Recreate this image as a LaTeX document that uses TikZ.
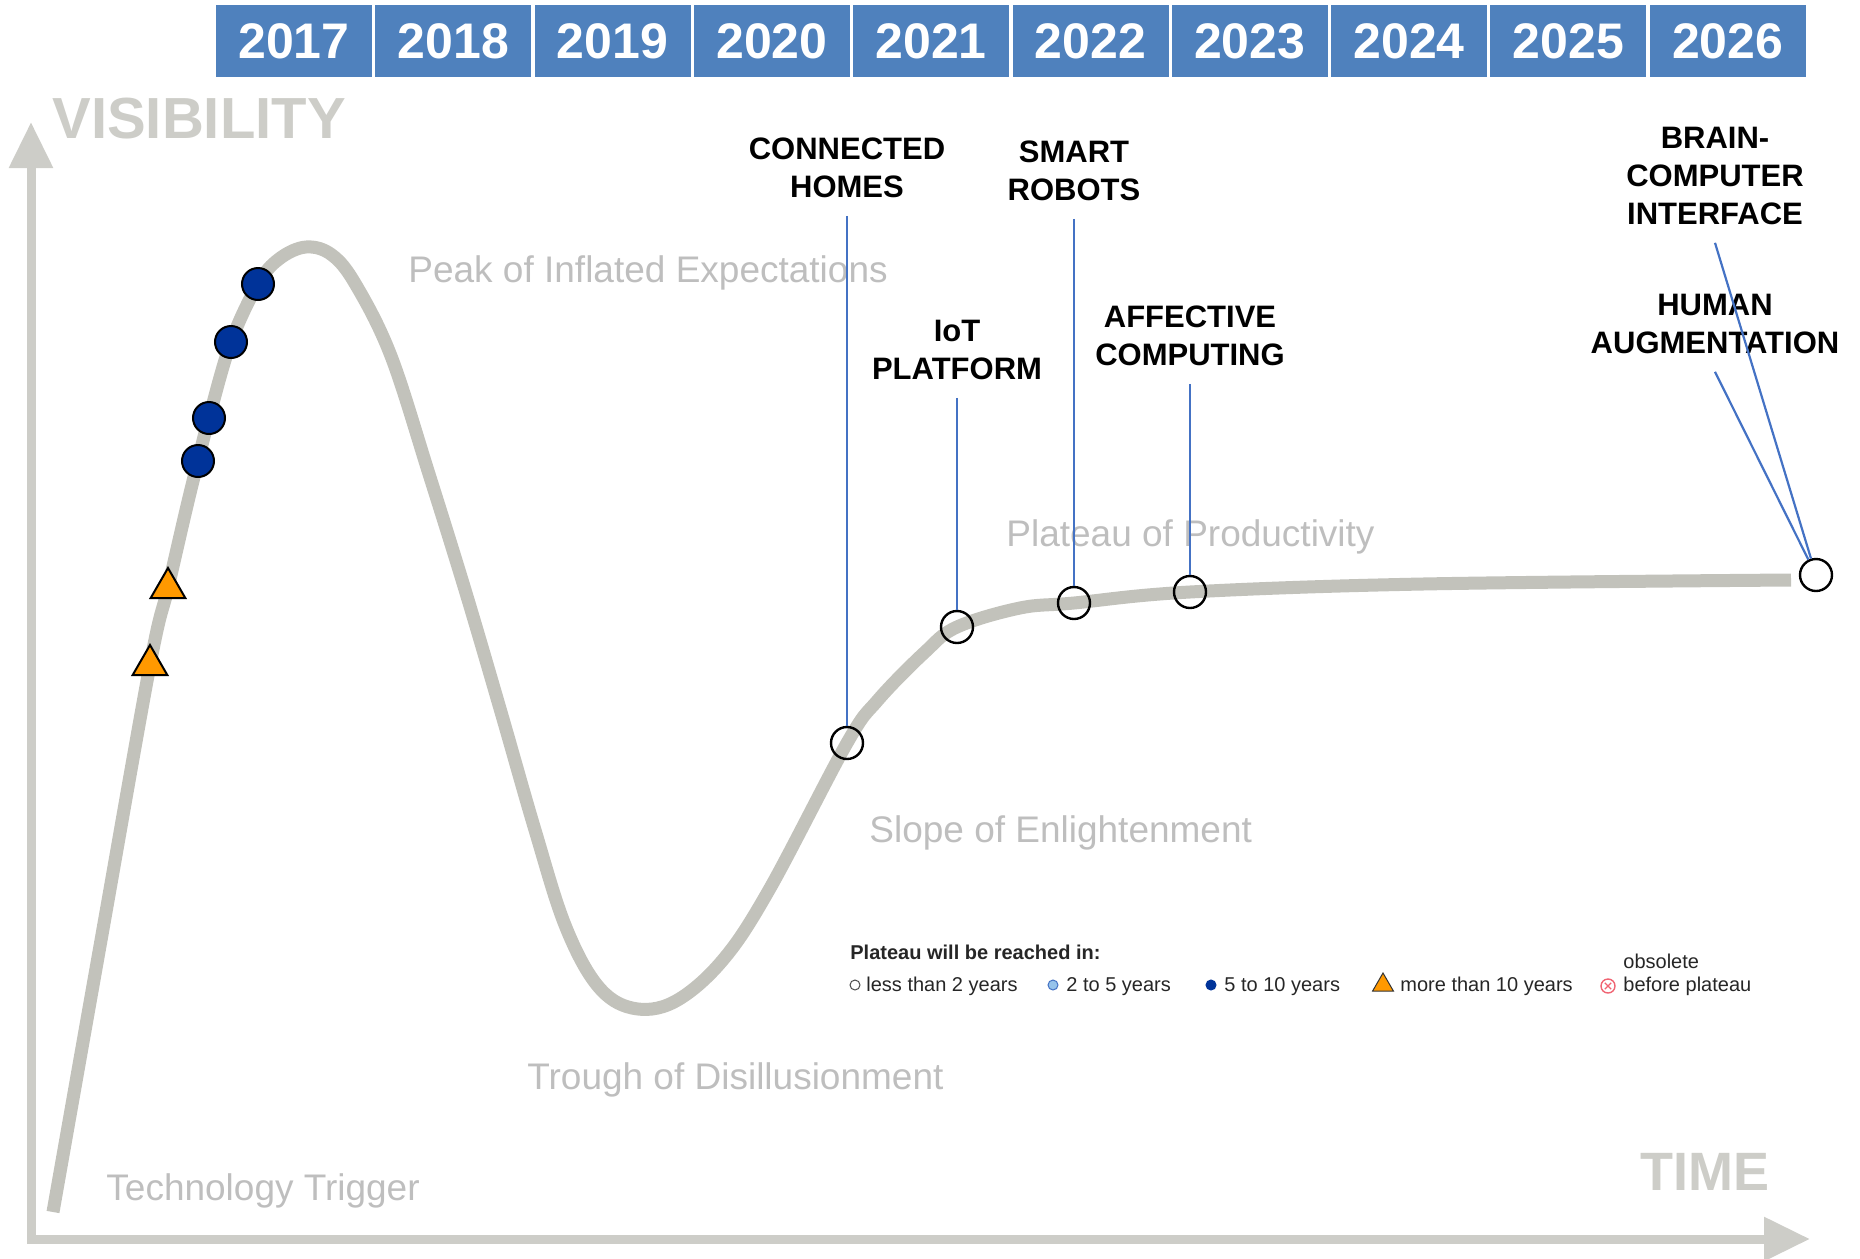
\documentclass[tikz,border=0pt]{standalone}
\usepackage{fontspec}
\setmainfont{Liberation Sans}
\usetikzlibrary{arrows.meta,shapes.geometric}
\definecolor{yearblue}{RGB}{79,129,189}
\definecolor{curvegray}{RGB}{194,194,187}
\definecolor{axisgray}{RGB}{205,205,200}
\definecolor{phasegray}{RGB}{190,190,190}
\definecolor{leaderblue}{RGB}{68,114,196}
\definecolor{markblue}{RGB}{0,51,153}
\definecolor{markorange}{RGB}{255,153,0}
\definecolor{lightmark}{RGB}{150,195,235}
\definecolor{obsred}{RGB}{240,100,115}

\tikzset{
  yearbox/.style={fill=yearblue, text=white, minimum width=78pt, minimum height=36pt, inner sep=0pt, font=\fontsize{25}{30}\selectfont\bfseries},
  tag/.style={align=center, inner sep=1pt, outer sep=8pt, font=\fontsize{15.5}{19}\selectfont\bfseries},
  phase/.style={anchor=base west, text=phasegray, inner sep=0pt, font=\fontsize{18.5}{22}\selectfont},
  axislabel/.style={anchor=base west, text=axisgray, inner sep=0pt, font=\bfseries},
  leader/.style={draw=leaderblue, line width=1.1pt},
  neardot/.style={circle, draw, line width=1.2pt, minimum size=16pt, inner sep=0pt},
  futuredot/.style={circle, draw, line width=1pt, fill=markblue, minimum size=16pt, inner sep=0pt},
  fartri/.style={regular polygon, regular polygon sides=3, draw, line width=1pt, fill=markorange, minimum size=20pt, inner sep=0pt},
  legendtxt/.style={anchor=base west, inner sep=0pt, text=black!85, font=\fontsize{10}{11}\selectfont},
  legendsym/.style={circle, line width=0.5pt, minimum size=5pt, inner sep=0pt}
}

\begin{document}
\begin{tikzpicture}[x=0.5pt, y=-0.5pt]
\useasboundingbox (0,0) rectangle (1860,1259);

% year bar
\foreach \yr [count=\i from 0] in {2017,...,2026}
  \node[yearbox] (y\yr) at ({294+159.3*\i},41) {\yr};

% axes
\draw[axisgray, line width=4.5pt, line join=miter, {Triangle[length=23pt,width=21pt]}-{Triangle[length=23pt,width=21pt]}]
  (31,122) -- (31,1239) -- (1810,1239);
\node[axislabel, font=\fontsize{29}{35}\selectfont\bfseries] (vis) at (52,138) {VISIBILITY};
\node[axislabel, font=\fontsize{27}{32}\selectfont\bfseries] (time) at (1640,1190) {TIME};

% hype curve
\draw[curvegray, line width=6.5pt] plot[smooth, tension=0.6] coordinates {
  (53,1212) (100,946) (150,665) (168,588) (186,510) (198,461) (209,418) (231,342)
  (258,284) (279,259) (306,247) (332,255) (356,285) (391,356) (429,474) (466,593)
  (501,712) (535,830) (565,925) (597,985) (632,1008) (674,1002) (722,961) (769,890)
  (847,743) (878,700) (925,652) (957,627) (1020,608) (1074,603) (1190,592) (1423,584) (1791,580)};

\node[phase] (peak) at (408,282) {Peak of Inflated Expectations};
\node[phase] (plateau) at (1006,546) {Plateau of Productivity};
\node[phase] (slope) at (869,842) {Slope of Enlightenment};
\node[phase] (trough) at (527,1089) {Trough of Disillusionment};
\node[phase] (trigger) at (106,1200) {Technology Trigger};

% markers
\node[futuredot] (m1) at (258,284) {};
\node[futuredot] (m2) at (231,342) {};
\node[futuredot] (m3) at (209,418) {};
\node[futuredot] (m4) at (198,461) {};
\node[fartri] (t1) at (168,588) {};
\node[fartri] (t2) at (150,665) {};
\node[neardot] (ch) at (847,743) {};
\node[neardot] (iot) at (957,627) {};
\node[neardot] (sr) at (1074,603) {};
\node[neardot] (ac) at (1190,592) {};
\node[neardot] (end) at (1816,575) {};

% labels
\node[tag] (chl) at (847,168) {CONNECTED\\HOMES};
\node[tag] (iotl) at (957,350) {IoT\\PLATFORM};
\node[tag] (srl) at (1074,171) {SMART\\ROBOTS};
\node[tag] (acl) at (1190,336) {AFFECTIVE\\COMPUTING};
\node[tag] (bcl) at (1715,176) {BRAIN-\\COMPUTER\\INTERFACE};
\node[tag] (hal) at (1715,324) {HUMAN\\AUGMENTATION};

\draw[leader] (chl.south) -- (ch);
\draw[leader] (iotl.south) -- (iot);
\draw[leader] (srl.south) -- (sr);
\draw[leader] (acl.south) -- (ac);
\draw[leader] (bcl.south) -- (end);
\draw[leader] (hal.south) -- (end);

% legend
\node[legendtxt, font=\fontsize{10}{11}\selectfont\bfseries] (lhead) at (850,959) {Plateau will be reached in:};
\node[legendsym, draw=black!70, fill=white] (s1) at (855,985) {};
\node[legendtxt] (l1) at (866,991) {less than 2 years};
\node[legendsym, draw=leaderblue, fill=lightmark] (s2) at (1053,985) {};
\node[legendtxt] (l2) at (1066,991) {2 to 5 years};
\node[legendsym, draw=markblue, fill=markblue] (s3) at (1211,985) {};
\node[legendtxt] (l3) at (1224,991) {5 to 10 years};
\node[regular polygon, regular polygon sides=3, draw=black!80, line width=0.5pt, fill=markorange, minimum size=12pt, inner sep=0pt] (s4) at (1383,985) {};
\node[legendtxt] (l4) at (1400,991) {more than 10 years};
\node[circle, draw=obsred, line width=0.7pt, minimum size=7pt, inner sep=0pt] (s5) at (1608,986) {};
\draw[obsred, line width=0.6pt] ([shift={(-1.6pt,-1.6pt)}]s5.center) -- ([shift={(1.6pt,1.6pt)}]s5.center)
  ([shift={(-1.6pt,1.6pt)}]s5.center) -- ([shift={(1.6pt,-1.6pt)}]s5.center);
\node[legendtxt] (l5a) at (1623,968) {obsolete};
\node[legendtxt] (l5b) at (1623,991) {before plateau};
\end{tikzpicture}
\end{document}
